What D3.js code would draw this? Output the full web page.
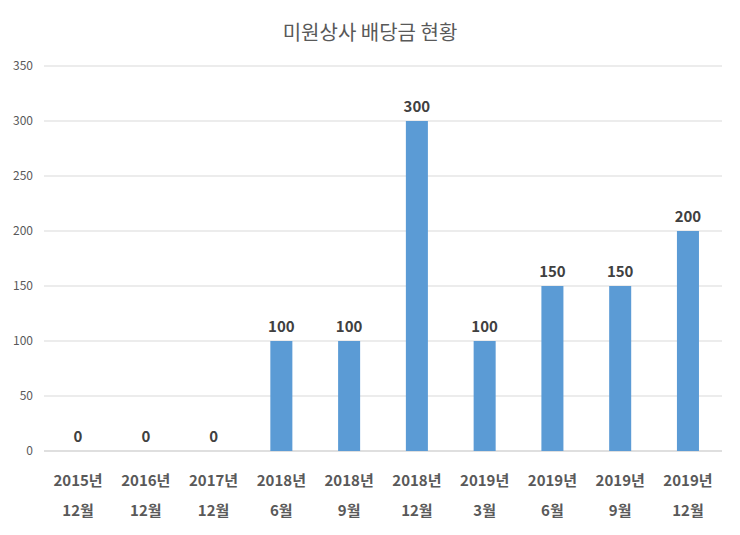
<!DOCTYPE html>
<html><head><meta charset="utf-8">
<script src="https://cdn.jsdelivr.net/npm/d3@7"></script>
<style>body{margin:0;background:#fff;font-family:"Noto Sans CJK KR","Noto Sans",sans-serif;}</style>
</head><body><div id="chart"></div>
<script>
const yearLabels = ["2015년","2016년","2017년","2018년","2018년","2018년","2019년","2019년","2019년","2019년"];
const monthLabels = ["12월","12월","12월","6월","9월","12월","3월","6월","9월","12월"];
const dividends = [0,0,0,100,100,300,100,150,150,200];
const yTicks = [0,50,100,150,200,250,300,350];

const w = 740, h = 535;
const marginLeft = 44, marginRight = 18, marginTop = 66, marginBottom = 84;

const svg = d3.select("#chart").append("svg").attr("width", w).attr("height", h);

svg.append("text").attr("x", w/2).attr("y", 40).attr("text-anchor","middle")
  .attr("font-size", 20).attr("fill","#595959").text("미원상사 배당금 현황");

const idx = dividends.map((d,i)=>i);
const x = d3.scaleBand().domain(idx).range([marginLeft, w - marginRight]).paddingInner(0.675).paddingOuter(0.34);
const y = d3.scaleLinear().domain([0,350]).range([h - marginBottom, marginTop]);

// grid + y labels
svg.append("g").selectAll("line").data(yTicks).join("line")
  .attr("x1", marginLeft).attr("x2", w - marginRight)
  .attr("y1", d=>y(d)).attr("y2", d=>y(d))
  .attr("stroke", d=>d===0?"#bfbfbf":"#d9d9d9");
svg.append("g").selectAll("text").data(yTicks).join("text")
  .attr("x", 33).attr("y", d=>y(d)+4).attr("text-anchor","end")
  .attr("font-size", 12).attr("fill","#595959").text(d=>d);

// bars
svg.append("g").selectAll("rect").data(dividends).join("rect")
  .attr("x",(d,i)=>x(i)).attr("width", x.bandwidth())
  .attr("y", d=>y(d)).attr("height", d=>y(0)-y(d)).attr("fill","#5B9BD5");

// value labels
svg.append("g").selectAll("text").data(dividends).join("text")
  .attr("x",(d,i)=>x(i)+x.bandwidth()/2).attr("y", d=>y(d)-9)
  .attr("text-anchor","middle").attr("font-size",15).attr("font-weight","bold")
  .attr("fill","#404040").text(d=>d);

// x labels
const xl = svg.append("g").selectAll("text").data(idx).join("text")
  .attr("text-anchor","middle").attr("font-size",15).attr("font-weight","bold").attr("fill","#595959");
xl.append("tspan").attr("x", i=>x(i)+x.bandwidth()/2).attr("y", 486).text(i=>yearLabels[i]);
xl.append("tspan").attr("x", i=>x(i)+x.bandwidth()/2).attr("y", 516).text(i=>monthLabels[i]);
</script></body></html>
